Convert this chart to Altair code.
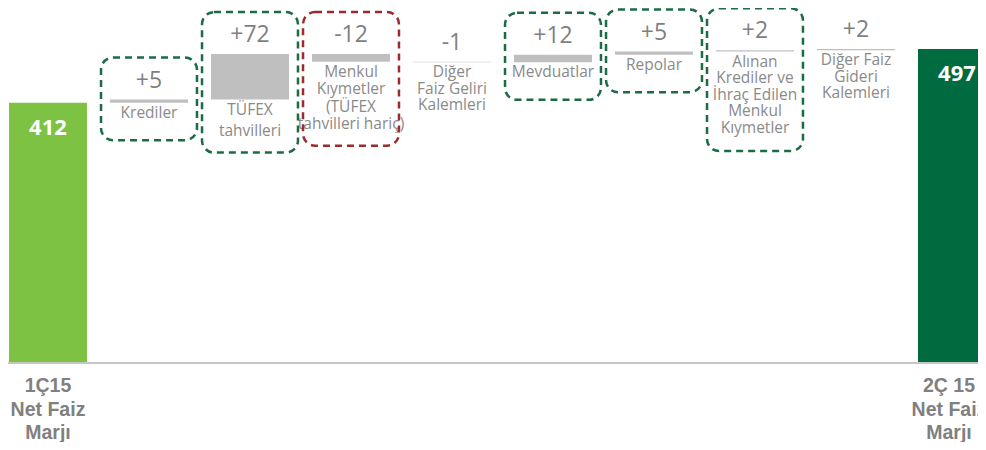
import altair as alt
import pandas as pd

# ---- data ----
categories = [
    "1Ç15\nNet Faiz\nMarjı",
    "Krediler",
    "TÜFEX\ntahvilleri",
    "Menkul\nKıymetler\n(TÜFEX\ntahvilleri hariç)",
    "Diğer\nFaiz Geliri\nKalemleri",
    "Mevduatlar",
    "Repolar",
    "Alınan\nKrediler ve\nİhraç Edilen\nMenkul\nKıymetler",
    "Diğer Faiz\nGideri\nKalemleri",
    "2Ç 15\nNet Faiz\nMarjı",
]
start_total = 412
changes = [5, 72, -12, -1, 12, 5, 2, 2]
end_total = 497
change_labels = ["+5", "+72", "-12", "-1", "+12", "+5", "+2", "+2"]
highlight = ["pos", "pos", "neg", None, "pos", "pos", "pos", None]

# ---- build tables ----
rows = []
rows.append(dict(idx=0, lo=0, hi=start_total, kind="start", vlabel=str(start_total),
                 cat=categories[0]))
run = start_total
for i, (c, lab) in enumerate(zip(changes, change_labels), start=1):
    new = run + c
    rows.append(dict(idx=i, lo=min(run, new), hi=max(run, new), kind="step",
                     vlabel=lab, cat=categories[i]))
    run = new
rows.append(dict(idx=9, lo=0, hi=end_total, kind="end", vlabel=str(end_total),
                 cat=categories[9]))
df = pd.DataFrame(rows)
df["xl"] = df["idx"] - 0.386
df["xr"] = df["idx"] + 0.386

W, H = 970, 434
YMIN, YMAX = -125, 562
XMIN = -0.396
XMAX = XMIN + W / 101.0
k = H / (YMAX - YMIN)  # px per unit

boxes = []
for i, h in enumerate(highlight, start=1):
    if h is None:
        continue
    r = df[df.idx == i].iloc[0]
    n = r["cat"].count("\n") + 1
    boxes.append(dict(idx=i, kind=h,
                      bx0=i - 0.475, bx1=i + 0.475,
                      top=r["hi"] + 42 / k,
                      bot=r["lo"] - (22 + n * 15.5) / k))
bdf = pd.DataFrame(boxes)

xs = alt.Scale(domain=[XMIN, XMAX], nice=False, zero=False)
ys = alt.Scale(domain=[YMIN, YMAX], nice=False, zero=False)

base = alt.Chart(df)

bars = base.mark_rect(clip=True).encode(
    x=alt.X("xl:Q", scale=xs, axis=None),
    x2="xr:Q",
    y=alt.Y("lo:Q", scale=ys, axis=None),
    y2="hi:Q",
    color=alt.Color("kind:N", scale=alt.Scale(domain=["start", "step", "end"],
                                              range=["#7dc242", "#bfbfbf", "#006b3f"]),
                    legend=None),
)

axis_line = alt.Chart(pd.DataFrame({"a": [XMIN], "b": [XMAX], "y": [0]})).mark_rule(
    color="#c6c6c6", strokeWidth=2).encode(
    x=alt.X("a:Q", scale=xs, axis=None), x2="b:Q",
    y=alt.Y("y:Q", scale=ys, axis=None))

steps = base.transform_filter("datum.kind == 'step'")
totals = base.transform_filter("datum.kind != 'step'")

value_labels = steps.mark_text(font="Open Sans", fontSize=23, color="#7f7f7f",
                               baseline="alphabetic", dy=-12).encode(
    x=alt.X("idx:Q", scale=xs, axis=None),
    y=alt.Y("hi:Q", scale=ys, axis=None),
    text="vlabel:N")


def cat_layer(filt, lh):
    return steps.transform_filter(filt).mark_text(
        font="Open Sans", fontSize=15.5, color="#8a8a8a", baseline="top", dy=3,
        lineBreak="\n", lineHeight=lh).encode(
        x=alt.X("idx:Q", scale=xs, axis=None),
        y=alt.Y("lo:Q", scale=ys, axis=None),
        text="cat:N")


cat_labels = [
    cat_layer("datum.idx != 2 && datum.idx != 3", 16.5),
    cat_layer("datum.idx == 2", 21),
    cat_layer("datum.idx == 3", 17.5),
]

total_values = totals.mark_text(font="Open Sans", fontSize=22, fontWeight="bold",
                                color="white", baseline="alphabetic", dy=32,
                                clip=True).encode(
    x=alt.X("idx:Q", scale=xs, axis=None),
    y=alt.Y("hi:Q", scale=ys, axis=None),
    text="vlabel:N")


def total_cat_layer(filt, dx):
    return totals.transform_filter(filt).mark_text(
        font="Liberation Sans", fontSize=19.5, fontWeight="bold",
        color="#808080", baseline="alphabetic", dy=29, dx=dx,
        lineBreak="\n", lineHeight=23.5).encode(
        x=alt.X("idx:Q", scale=xs, axis=None),
        y=alt.Y("lo:Q", scale=ys, axis=None),
        text="cat:N")


total_cats = [total_cat_layer("datum.kind == 'start'", 0),
              total_cat_layer("datum.kind == 'end'", -8)]

box_marks = alt.Chart(bdf).mark_rect(
    fillOpacity=0, strokeWidth=2.5, strokeDash=[7, 5], cornerRadius=12).encode(
    x=alt.X("bx0:Q", scale=xs, axis=None), x2="bx1:Q",
    y=alt.Y("bot:Q", scale=ys, axis=None), y2="top:Q",
    stroke=alt.Stroke("kind:N", scale=alt.Scale(domain=["pos", "neg"],
                                                range=["#1b6b45", "#9c2b2b"]),
                      legend=None),
)

chart = alt.layer(bars, axis_line, value_labels, *cat_labels,
                  total_values, *total_cats, box_marks).properties(
    width=W, height=H, autosize=alt.AutoSizeParams(type="none"), padding=0,
    background="white",
).configure_view(stroke=None)

chart.save("out.html", embed_options={"renderer": "svg", "actions": False})
